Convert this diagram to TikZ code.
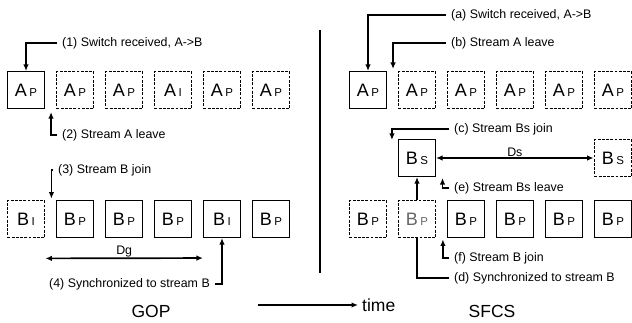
\documentclass[tikz,border=0pt]{standalone}
\usepackage{fontspec}
\setmainfont{Liberation Sans}
\usetikzlibrary{arrows.meta,positioning}
\tikzstyle{box}=[rectangle,draw,line width=1.1pt,minimum width=37pt,minimum height=37pt,inner sep=0pt]
\tikzstyle{dbox}=[box,line width=1.8pt,dash pattern=on 2.8pt off 1.4pt]
\tikzstyle{lbl}=[anchor=west,inner xsep=5pt,inner ysep=0pt,font=\fontsize{12.4}{14}\selectfont]
\tikzstyle{big}=[inner sep=0pt,font=\fontsize{17.5}{18}\selectfont]
\tikzstyle{arr}=[-{Latex[length=6.5pt,width=5.5pt]},line width=1.7pt]
\tikzstyle{darr}=[{Latex[length=6.5pt,width=5.5pt]}-{Latex[length=6.5pt,width=5.5pt]},line width=1.7pt]
\newcommand{\fr}[2]{{\fontsize{18}{18}\selectfont #1}\hspace{2.5pt}{\fontsize{11.5}{12}\selectfont #2}}

\begin{document}
\begin{tikzpicture}[x=1pt,y=-1pt,node distance=49pt]
\useasboundingbox (0,0) rectangle (632,322);
% GOP side
\node[box] (A1) at (26,90) {\fr{A}{P}};
\node[dbox, right of=A1] (A2) {\fr{A}{P}};
\node[dbox, right of=A2] (A3) {\fr{A}{P}};
\node[dbox, right of=A3] (A4) {\fr{A}{I}};
\node[dbox, right of=A4] (A5) {\fr{A}{P}};
\node[dbox, right of=A5] (A6) {\fr{A}{P}};
\node[dbox] (B1) at (26,219) {\fr{B}{I}};
\node[box, right of=B1] (B2) {\fr{B}{P}};
\node[box, right of=B2] (B3) {\fr{B}{P}};
\node[box, right of=B3] (B4) {\fr{B}{P}};
\node[box, right of=B4] (B5) {\fr{B}{I}};
\node[box, right of=B5] (B6) {\fr{B}{P}};
\node[lbl] (L1) at (57,43) {(1) Switch received, A->B};
\node[lbl] (L2) at (57,135) {(2) Stream A leave};
\node[lbl] (L3) at (53,170) {(3) Stream B join};
\node[lbl,anchor=east] (L4) at (215,284) {(4) Synchronized to stream B};
\draw[arr] (L1.west) -| (A1.north);
\draw[arr] (L2.west) -| ([xshift=6pt,yshift=-3pt]A1.south east);
\draw[arr] (L3.west) -| ([xshift=6pt,yshift=1pt]B1.north east);
\draw[darr] ([yshift=-20pt]B1.south east) -- node[above,inner sep=0.5pt,font=\fontsize{12.4}{14}\selectfont]{Dg} ([yshift=-20pt]B5.south west);
\draw[arr] (L4.east) -| (B5.south);
\node[big] (GOP) at (151,311) {GOP};
% separator and time axis
\coordinate (S0) at (320,30);
\coordinate (S1) at (320,273);
\draw[line width=1.3pt] (S0) -- (S1);
\node[big,anchor=west] (T) at (362,305) {time};
\coordinate (T0) at (258,305);
\draw[arr] (T0) -- ([xshift=-4pt]T.west);
% SFCS side
\node[box] (RA1) at (368,90) {\fr{A}{P}};
\node[dbox, right of=RA1] (RA2) {\fr{A}{P}};
\node[dbox, right of=RA2] (RA3) {\fr{A}{P}};
\node[dbox, right of=RA3] (RA4) {\fr{A}{P}};
\node[dbox, right of=RA4] (RA5) {\fr{A}{P}};
\node[dbox, right of=RA5] (RA6) {\fr{A}{P}};
\node[box] (BS) at (417,158) {\fr{B}{S}};
\node[dbox] (BSd) at (613,158) {\fr{B}{S}};
\node[dbox] (RB1) at (368,219) {\fr{B}{P}};
\node[dbox, right of=RB1, text=black!60] (RB2) {\fr{B}{P}};
\node[box, right of=RB2] (RB3) {\fr{B}{P}};
\node[box, right of=RB3] (RB4) {\fr{B}{P}};
\node[box, right of=RB4] (RB5) {\fr{B}{P}};
\node[box, right of=RB5] (RB6) {\fr{B}{P}};
\node[lbl] (La) at (446,15) {(a) Switch received, A->B};
\node[lbl] (Lb) at (446,43) {(b) Stream A leave};
\node[lbl] (Lc) at (449,129) {(c) Stream Bs join};
\node[lbl] (Le) at (449,188) {(e) Stream Bs leave};
\node[lbl] (Lf) at (449,258) {(f) Stream B join};
\node[lbl] (Ld) at (449,278) {(d) Synchronized to stream B};
\draw[arr] (La.west) -| (RA1.north);
\draw[arr] (Lb.west) -| ([xshift=6pt,yshift=2pt]RA1.north east);
\draw[arr] (Lc.west) -| ([xshift=-6pt,yshift=-1pt]BS.north west);
\draw[darr] (BS.east) -- node[above,inner sep=1pt,font=\fontsize{12.4}{14}\selectfont]{Ds} (BSd.west);
\draw[arr] (Le.west) -| ([xshift=6.5pt,yshift=-1pt]BS.south east);
\draw[arr] (RB2.north) -- (BS.south);
\draw[arr] (Lf.west) -| ([xshift=6.5pt,yshift=-1pt]RB2.south east);
\draw[line width=1.7pt] (Ld.west) -| (RB2.south);
\node[big] (SFCS) at (492,311) {SFCS};
\end{tikzpicture}
\end{document}
